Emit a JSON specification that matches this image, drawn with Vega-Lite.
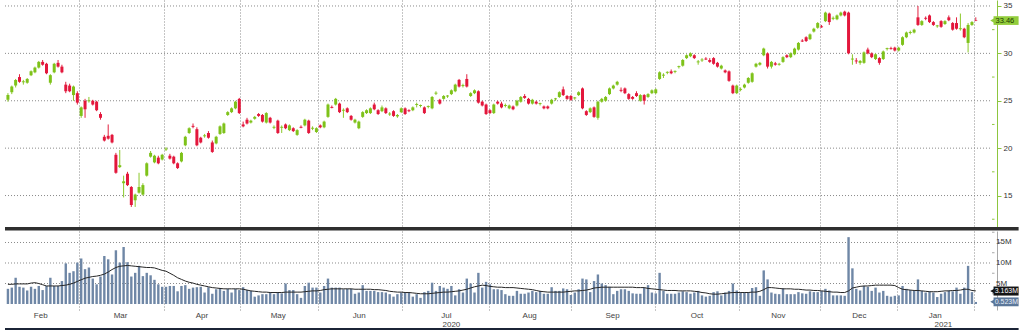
{
"$schema": "https://vega.github.io/schema/vega-lite/v6.json",
"padding": 0,
"autosize": {"type": "pad"},
"background": "white",
"spacing": 4,
"bounds": "flush",
"config": {"view": {"stroke": null}, "font": "Liberation Sans", "axis": {"labelFont": "Liberation Sans", "labelFontSize": 8, "labelColor": "#333333", "labelOverlap": false}, "text": {"font": "Liberation Sans"}},
"datasets": {
"px": [
{"i":0,"o":25.1,"h":25.8,"l":24.9,"c":25.6,"v":3.7,"m":4.8},
{"i":1,"o":25.9,"h":26.6,"l":25.7,"c":26.5,"v":4.0,"m":4.8},
{"i":2,"o":26.6,"h":27.3,"l":26.4,"c":27.2,"v":6.4,"m":4.9},
{"i":3,"o":27.5,"h":27.8,"l":26.9,"c":27.0,"v":4.2,"m":4.9},
{"i":4,"o":26.95,"h":27.2,"l":26.7,"c":27.05,"v":4.0,"m":4.9},
{"i":5,"o":26.9,"h":27.4,"l":26.8,"c":27.3,"v":3.3,"m":4.9},
{"i":6,"o":27.7,"h":28.2,"l":27.6,"c":28.1,"v":4.2,"m":5.1},
{"i":7,"o":28.0,"h":28.6,"l":27.9,"c":28.5,"v":3.7,"m":5.2},
{"i":8,"o":28.5,"h":29.2,"l":28.4,"c":29.1,"v":4.4,"m":5.0},
{"i":9,"o":29.1,"h":29.3,"l":28.7,"c":28.8,"v":3.4,"m":4.7},
{"i":10,"o":28.9,"h":29.0,"l":27.8,"c":27.9,"v":4.4,"m":4.4},
{"i":11,"o":26.9,"h":27.8,"l":26.7,"c":27.7,"v":6.4,"m":4.4},
{"i":12,"o":28.0,"h":29.0,"l":27.9,"c":28.9,"v":4.4,"m":4.4},
{"i":13,"o":29.0,"h":29.3,"l":28.5,"c":28.6,"v":4.4,"m":4.4},
{"i":14,"o":28.6,"h":28.8,"l":27.9,"c":28.0,"v":5.6,"m":4.5},
{"i":15,"o":26.7,"h":27.0,"l":25.8,"c":26.0,"v":9.9,"m":4.6},
{"i":16,"o":26.6,"h":26.8,"l":25.9,"c":26.0,"v":7.6,"m":4.8},
{"i":17,"o":25.6,"h":26.6,"l":25.0,"c":26.5,"v":8.0,"m":5.1},
{"i":18,"o":25.8,"h":26.0,"l":24.6,"c":24.8,"v":10.1,"m":5.5},
{"i":19,"o":23.4,"h":24.4,"l":23.2,"c":24.3,"v":11.1,"m":5.9},
{"i":20,"o":25.0,"h":25.2,"l":23.2,"c":24.1,"v":8.5,"m":6.3},
{"i":21,"o":24.95,"h":25.4,"l":24.8,"c":25.05,"v":8.9,"m":6.5},
{"i":22,"o":25.0,"h":25.1,"l":24.5,"c":24.6,"v":6.2,"m":6.7},
{"i":23,"o":24.9,"h":25.0,"l":23.9,"c":24.0,"v":4.8,"m":6.8},
{"i":24,"o":23.6,"h":23.8,"l":23.0,"c":23.2,"v":6.7,"m":7.0},
{"i":25,"o":21.2,"h":21.4,"l":20.7,"c":20.8,"v":11.7,"m":7.3},
{"i":26,"o":21.3,"h":22.5,"l":20.9,"c":21.0,"v":10.9,"m":7.8},
{"i":27,"o":21.4,"h":21.5,"l":20.5,"c":20.6,"v":7.2,"m":8.4},
{"i":28,"o":19.3,"h":19.5,"l":17.3,"c":17.4,"v":13.1,"m":8.9},
{"i":29,"o":18.0,"h":19.8,"l":17.9,"c":18.2,"v":10.1,"m":9.2},
{"i":30,"o":16.3,"h":17.1,"l":14.8,"c":16.5,"v":13.9,"m":9.3},
{"i":31,"o":17.3,"h":17.5,"l":16.0,"c":16.1,"v":10.2,"m":9.4},
{"i":32,"o":15.9,"h":16.0,"l":13.8,"c":14.0,"v":6.7,"m":9.3},
{"i":33,"o":14.5,"h":15.2,"l":13.8,"c":15.1,"v":7.6,"m":9.2},
{"i":34,"o":15.3,"h":17.4,"l":15.2,"c":15.9,"v":9.3,"m":9.1},
{"i":35,"o":15.1,"h":16.3,"l":15.0,"c":16.1,"v":6.8,"m":9.0},
{"i":36,"o":17.1,"h":18.5,"l":17.0,"c":18.4,"v":7.6,"m":8.9},
{"i":37,"o":19.1,"h":19.7,"l":19.0,"c":19.5,"v":7.0,"m":8.9},
{"i":38,"o":18.5,"h":19.3,"l":18.4,"c":19.2,"v":5.9,"m":8.8},
{"i":39,"o":19.0,"h":19.2,"l":18.3,"c":18.4,"v":4.8,"m":8.5},
{"i":40,"o":18.8,"h":19.4,"l":18.7,"c":19.3,"v":4.2,"m":8.2},
{"i":41,"o":19.85,"h":20.1,"l":19.7,"c":19.95,"v":4.2,"m":8.0},
{"i":42,"o":19.2,"h":19.4,"l":18.8,"c":18.9,"v":4.4,"m":7.5},
{"i":43,"o":19.1,"h":19.2,"l":18.3,"c":18.4,"v":4.4,"m":7.0},
{"i":44,"o":18.4,"h":18.5,"l":17.8,"c":17.9,"v":3.1,"m":6.4},
{"i":45,"o":18.6,"h":19.6,"l":18.5,"c":19.5,"v":4.4,"m":6.0},
{"i":46,"o":20.3,"h":21.3,"l":20.2,"c":21.2,"v":4.6,"m":5.6},
{"i":47,"o":21.6,"h":22.2,"l":21.5,"c":22.1,"v":3.7,"m":5.3},
{"i":48,"o":22.35,"h":22.6,"l":22.1,"c":22.25,"v":4.0,"m":5.1},
{"i":49,"o":22.0,"h":22.2,"l":20.2,"c":20.3,"v":4.1,"m":4.8},
{"i":50,"o":21.1,"h":21.2,"l":20.5,"c":20.6,"v":4.2,"m":4.6},
{"i":51,"o":21.25,"h":21.5,"l":21.1,"c":21.35,"v":2.8,"m":4.4},
{"i":52,"o":21.6,"h":21.8,"l":21.0,"c":21.1,"v":4.1,"m":4.2},
{"i":53,"o":20.6,"h":20.8,"l":19.5,"c":19.6,"v":2.5,"m":4.0},
{"i":54,"o":20.5,"h":21.3,"l":20.4,"c":21.2,"v":3.6,"m":3.9},
{"i":55,"o":21.5,"h":22.4,"l":21.4,"c":22.3,"v":3.9,"m":3.8},
{"i":56,"o":21.6,"h":22.7,"l":21.5,"c":22.6,"v":3.2,"m":3.7},
{"i":57,"o":23.5,"h":23.9,"l":23.4,"c":23.8,"v":3.7,"m":3.7},
{"i":58,"o":23.8,"h":24.3,"l":23.7,"c":24.2,"v":2.8,"m":3.7},
{"i":59,"o":24.2,"h":25.0,"l":24.1,"c":24.9,"v":3.7,"m":3.7},
{"i":60,"o":25.2,"h":25.3,"l":23.6,"c":23.7,"v":3.4,"m":3.7},
{"i":61,"o":22.5,"h":22.8,"l":22.2,"c":22.3,"v":4.1,"m":3.6},
{"i":62,"o":23.0,"h":23.2,"l":22.5,"c":22.6,"v":3.4,"m":3.4},
{"i":63,"o":22.7,"h":23.0,"l":22.6,"c":22.9,"v":3.2,"m":3.2},
{"i":64,"o":23.1,"h":23.4,"l":23.0,"c":23.3,"v":1.8,"m":3.1},
{"i":65,"o":23.6,"h":23.7,"l":23.3,"c":23.4,"v":2.1,"m":3.0},
{"i":66,"o":23.5,"h":23.6,"l":22.7,"c":22.8,"v":2.4,"m":2.9},
{"i":67,"o":22.7,"h":23.8,"l":22.6,"c":23.7,"v":2.4,"m":2.9},
{"i":68,"o":23.2,"h":23.3,"l":22.6,"c":22.7,"v":2.8,"m":2.8},
{"i":69,"o":22.15,"h":22.4,"l":22.0,"c":22.25,"v":2.4,"m":2.8},
{"i":70,"o":22.9,"h":23.0,"l":21.5,"c":21.6,"v":2.9,"m":2.8},
{"i":71,"o":22.15,"h":22.4,"l":21.6,"c":22.25,"v":2.6,"m":2.8},
{"i":72,"o":22.5,"h":22.6,"l":22.0,"c":22.1,"v":5.0,"m":2.9},
{"i":73,"o":21.9,"h":22.5,"l":21.8,"c":22.4,"v":3.4,"m":2.9},
{"i":74,"o":22.1,"h":22.2,"l":21.7,"c":21.8,"v":3.4,"m":2.9},
{"i":75,"o":21.4,"h":22.0,"l":21.3,"c":21.9,"v":2.4,"m":2.9},
{"i":76,"o":22.25,"h":22.4,"l":22.1,"c":22.15,"v":1.5,"m":2.9},
{"i":77,"o":22.4,"h":23.1,"l":22.3,"c":23.0,"v":4.4,"m":3.0},
{"i":78,"o":22.9,"h":23.0,"l":21.5,"c":21.6,"v":5.2,"m":3.1},
{"i":79,"o":22.05,"h":22.3,"l":21.9,"c":22.15,"v":4.0,"m":3.2},
{"i":80,"o":21.7,"h":22.2,"l":21.6,"c":22.1,"v":4.0,"m":3.2},
{"i":81,"o":22.4,"h":22.5,"l":22.1,"c":22.2,"v":2.8,"m":3.3},
{"i":82,"o":22.2,"h":22.9,"l":22.1,"c":22.8,"v":4.4,"m":3.5},
{"i":83,"o":23.3,"h":24.7,"l":23.2,"c":24.6,"v":6.2,"m":3.6},
{"i":84,"o":24.35,"h":24.5,"l":24.2,"c":24.25,"v":4.0,"m":3.7},
{"i":85,"o":24.6,"h":25.3,"l":24.5,"c":25.2,"v":4.0,"m":3.7},
{"i":86,"o":24.7,"h":24.8,"l":23.7,"c":23.8,"v":4.0,"m":3.7},
{"i":87,"o":23.95,"h":24.2,"l":23.2,"c":24.05,"v":3.6,"m":3.7},
{"i":88,"o":24.2,"h":24.3,"l":23.7,"c":23.8,"v":3.7,"m":3.7},
{"i":89,"o":23.4,"h":23.5,"l":22.9,"c":23.0,"v":3.7,"m":3.7},
{"i":90,"o":22.7,"h":23.1,"l":22.6,"c":23.0,"v":2.5,"m":3.6},
{"i":91,"o":22.1,"h":22.9,"l":22.0,"c":22.8,"v":2.8,"m":3.6},
{"i":92,"o":23.3,"h":23.9,"l":23.2,"c":23.8,"v":4.6,"m":3.6},
{"i":93,"o":23.7,"h":24.1,"l":23.6,"c":24.0,"v":3.2,"m":3.6},
{"i":94,"o":23.7,"h":24.3,"l":23.6,"c":24.2,"v":3.2,"m":3.6},
{"i":95,"o":24.6,"h":24.8,"l":24.0,"c":24.1,"v":3.2,"m":3.5},
{"i":96,"o":24.0,"h":24.1,"l":23.5,"c":23.6,"v":2.9,"m":3.5},
{"i":97,"o":23.9,"h":24.5,"l":23.8,"c":24.3,"v":2.9,"m":3.4},
{"i":98,"o":24.2,"h":24.3,"l":23.6,"c":23.7,"v":2.8,"m":3.3},
{"i":99,"o":23.55,"h":23.8,"l":23.4,"c":23.65,"v":2.4,"m":3.1},
{"i":100,"o":23.9,"h":24.0,"l":23.3,"c":23.4,"v":1.8,"m":3.0},
{"i":101,"o":23.35,"h":23.6,"l":23.2,"c":23.5,"v":2.4,"m":2.9},
{"i":102,"o":23.8,"h":24.3,"l":23.7,"c":24.2,"v":2.8,"m":2.9},
{"i":103,"o":24.2,"h":24.3,"l":23.5,"c":23.6,"v":2.8,"m":2.8},
{"i":104,"o":24.0,"h":24.1,"l":23.8,"c":23.9,"v":2.8,"m":2.8},
{"i":105,"o":24.0,"h":24.4,"l":23.9,"c":24.3,"v":1.8,"m":2.7},
{"i":106,"o":24.55,"h":24.8,"l":24.3,"c":24.65,"v":2.4,"m":2.6},
{"i":107,"o":24.45,"h":24.6,"l":24.3,"c":24.55,"v":1.5,"m":2.5},
{"i":108,"o":24.3,"h":24.4,"l":23.6,"c":23.7,"v":2.9,"m":2.5},
{"i":109,"o":24.35,"h":24.5,"l":24.2,"c":24.45,"v":3.2,"m":2.5},
{"i":110,"o":24.2,"h":25.5,"l":24.1,"c":25.4,"v":5.2,"m":2.6},
{"i":111,"o":25.75,"h":26.0,"l":25.6,"c":25.85,"v":3.2,"m":2.7},
{"i":112,"o":25.1,"h":25.2,"l":24.6,"c":24.7,"v":4.4,"m":2.8},
{"i":113,"o":25.2,"h":25.6,"l":25.1,"c":25.5,"v":4.0,"m":2.9},
{"i":114,"o":25.45,"h":25.6,"l":25.3,"c":25.55,"v":3.7,"m":2.9},
{"i":115,"o":25.7,"h":26.2,"l":25.6,"c":26.1,"v":4.4,"m":3.0},
{"i":116,"o":26.0,"h":26.8,"l":25.9,"c":26.7,"v":2.1,"m":3.1},
{"i":117,"o":27.2,"h":27.3,"l":26.4,"c":26.5,"v":3.6,"m":3.2},
{"i":118,"o":26.55,"h":26.8,"l":26.4,"c":26.65,"v":2.8,"m":3.4},
{"i":119,"o":27.3,"h":27.8,"l":26.4,"c":26.5,"v":6.2,"m":3.6},
{"i":120,"o":25.5,"h":25.9,"l":25.4,"c":25.8,"v":5.0,"m":3.9},
{"i":121,"o":25.8,"h":26.2,"l":25.7,"c":26.1,"v":2.8,"m":4.2},
{"i":122,"o":26.0,"h":26.1,"l":24.7,"c":24.8,"v":7.6,"m":4.4},
{"i":123,"o":24.9,"h":25.0,"l":24.4,"c":24.5,"v":4.0,"m":4.6},
{"i":124,"o":24.6,"h":24.7,"l":23.5,"c":23.6,"v":5.4,"m":4.5},
{"i":125,"o":24.0,"h":24.1,"l":23.6,"c":23.7,"v":4.8,"m":4.3},
{"i":126,"o":23.7,"h":24.7,"l":23.6,"c":24.6,"v":3.6,"m":4.2},
{"i":127,"o":24.9,"h":25.0,"l":24.6,"c":24.7,"v":3.6,"m":4.1},
{"i":128,"o":24.7,"h":24.9,"l":24.2,"c":24.3,"v":3.4,"m":4.1},
{"i":129,"o":24.45,"h":24.7,"l":24.3,"c":24.55,"v":2.4,"m":4.0},
{"i":130,"o":24.2,"h":24.6,"l":24.1,"c":24.5,"v":2.0,"m":4.0},
{"i":131,"o":24.4,"h":24.5,"l":24.0,"c":24.1,"v":2.0,"m":4.0},
{"i":132,"o":24.5,"h":25.1,"l":24.4,"c":25.0,"v":3.2,"m":3.9},
{"i":133,"o":24.9,"h":25.5,"l":24.8,"c":25.4,"v":2.5,"m":3.8},
{"i":134,"o":25.5,"h":25.7,"l":25.2,"c":25.3,"v":2.5,"m":3.7},
{"i":135,"o":25.2,"h":25.3,"l":24.6,"c":24.7,"v":2.8,"m":3.6},
{"i":136,"o":24.7,"h":25.2,"l":24.6,"c":25.1,"v":3.2,"m":3.5},
{"i":137,"o":24.9,"h":25.0,"l":24.6,"c":24.7,"v":2.9,"m":3.3},
{"i":138,"o":24.65,"h":24.8,"l":24.5,"c":24.75,"v":3.2,"m":3.1},
{"i":139,"o":24.4,"h":24.5,"l":24.1,"c":24.2,"v":2.5,"m":3.0},
{"i":140,"o":24.4,"h":24.5,"l":24.1,"c":24.2,"v":2.5,"m":2.9},
{"i":141,"o":24.7,"h":25.2,"l":24.6,"c":25.1,"v":4.1,"m":2.9},
{"i":142,"o":25.15,"h":25.3,"l":25.0,"c":25.25,"v":3.2,"m":2.9},
{"i":143,"o":25.4,"h":26.0,"l":25.3,"c":25.9,"v":3.2,"m":2.9},
{"i":144,"o":26.2,"h":26.5,"l":25.5,"c":25.6,"v":3.8,"m":2.9},
{"i":145,"o":25.5,"h":25.6,"l":25.1,"c":25.2,"v":3.6,"m":3.0},
{"i":146,"o":25.5,"h":25.6,"l":25.0,"c":25.1,"v":2.2,"m":3.1},
{"i":147,"o":25.25,"h":25.4,"l":25.1,"c":25.35,"v":2.8,"m":3.2},
{"i":148,"o":25.6,"h":26.0,"l":25.5,"c":25.9,"v":3.6,"m":3.2},
{"i":149,"o":26.3,"h":26.4,"l":24.1,"c":24.2,"v":6.2,"m":3.3},
{"i":150,"o":23.9,"h":24.0,"l":23.4,"c":23.5,"v":6.0,"m":3.4},
{"i":151,"o":23.8,"h":24.3,"l":23.7,"c":24.2,"v":2.9,"m":3.6},
{"i":152,"o":24.3,"h":24.4,"l":23.2,"c":23.3,"v":5.6,"m":3.9},
{"i":153,"o":23.2,"h":25.0,"l":23.0,"c":24.9,"v":7.2,"m":4.0},
{"i":154,"o":24.9,"h":25.3,"l":24.8,"c":25.2,"v":5.0,"m":4.1},
{"i":155,"o":25.0,"h":25.5,"l":24.9,"c":25.4,"v":4.6,"m":4.1},
{"i":156,"o":25.7,"h":26.4,"l":25.6,"c":26.3,"v":4.2,"m":4.1},
{"i":157,"o":26.3,"h":26.7,"l":26.2,"c":26.6,"v":2.4,"m":4.1},
{"i":158,"o":26.7,"h":27.1,"l":26.6,"c":27.0,"v":3.2,"m":4.1},
{"i":159,"o":26.15,"h":26.4,"l":25.9,"c":26.05,"v":3.6,"m":4.1},
{"i":160,"o":26.3,"h":26.4,"l":25.7,"c":25.8,"v":3.6,"m":4.1},
{"i":161,"o":25.7,"h":25.8,"l":25.1,"c":25.2,"v":3.2,"m":4.1},
{"i":162,"o":25.4,"h":25.5,"l":25.1,"c":25.2,"v":2.6,"m":4.1},
{"i":163,"o":25.8,"h":26.0,"l":25.4,"c":25.5,"v":2.5,"m":4.0},
{"i":164,"o":25.0,"h":25.7,"l":24.9,"c":25.6,"v":2.5,"m":4.0},
{"i":165,"o":25.6,"h":25.7,"l":24.6,"c":25.0,"v":4.0,"m":4.0},
{"i":166,"o":25.4,"h":25.8,"l":25.3,"c":25.7,"v":4.6,"m":3.8},
{"i":167,"o":25.8,"h":26.2,"l":25.7,"c":26.1,"v":2.8,"m":3.7},
{"i":168,"o":25.8,"h":26.3,"l":25.7,"c":26.2,"v":2.6,"m":3.6},
{"i":169,"o":27.3,"h":28.1,"l":27.2,"c":28.0,"v":7.6,"m":3.5},
{"i":170,"o":27.65,"h":27.9,"l":27.4,"c":27.75,"v":3.2,"m":3.4},
{"i":171,"o":27.95,"h":28.1,"l":27.8,"c":28.05,"v":2.5,"m":3.3},
{"i":172,"o":28.1,"h":28.3,"l":27.8,"c":27.9,"v":2.5,"m":3.3},
{"i":173,"o":28.05,"h":28.2,"l":27.9,"c":28.15,"v":2.5,"m":3.3},
{"i":174,"o":28.55,"h":28.7,"l":28.4,"c":28.65,"v":2.8,"m":3.2},
{"i":175,"o":28.7,"h":29.4,"l":28.6,"c":29.3,"v":3.1,"m":3.2},
{"i":176,"o":29.5,"h":29.9,"l":29.4,"c":29.8,"v":2.9,"m":3.2},
{"i":177,"o":29.7,"h":30.1,"l":29.6,"c":30.0,"v":2.5,"m":3.2},
{"i":178,"o":29.8,"h":29.9,"l":29.4,"c":29.5,"v":2.8,"m":3.1},
{"i":179,"o":29.05,"h":29.3,"l":28.8,"c":29.15,"v":3.2,"m":3.0},
{"i":180,"o":29.25,"h":29.5,"l":29.1,"c":29.35,"v":2.1,"m":2.8},
{"i":181,"o":29.45,"h":29.6,"l":29.3,"c":29.35,"v":1.8,"m":2.7},
{"i":182,"o":29.3,"h":29.5,"l":29.0,"c":29.1,"v":2.0,"m":2.5},
{"i":183,"o":29.5,"h":29.6,"l":28.8,"c":28.9,"v":2.9,"m":2.4},
{"i":184,"o":29.0,"h":29.1,"l":28.5,"c":28.6,"v":3.1,"m":2.4},
{"i":185,"o":28.4,"h":28.8,"l":28.3,"c":28.7,"v":2.1,"m":2.5},
{"i":186,"o":28.2,"h":28.3,"l":27.9,"c":28.0,"v":2.8,"m":2.6},
{"i":187,"o":28.1,"h":28.2,"l":27.0,"c":27.1,"v":3.2,"m":2.7},
{"i":188,"o":26.6,"h":26.7,"l":25.7,"c":25.8,"v":5.0,"m":2.8},
{"i":189,"o":25.8,"h":26.7,"l":25.7,"c":26.6,"v":3.3,"m":2.8},
{"i":190,"o":26.15,"h":26.4,"l":26.0,"c":26.25,"v":2.9,"m":2.8},
{"i":191,"o":26.4,"h":26.8,"l":26.3,"c":26.7,"v":2.9,"m":2.8},
{"i":192,"o":26.9,"h":27.5,"l":26.8,"c":27.4,"v":2.9,"m":2.8},
{"i":193,"o":27.0,"h":28.0,"l":26.9,"c":27.9,"v":3.9,"m":2.9},
{"i":194,"o":28.6,"h":29.0,"l":28.5,"c":28.9,"v":4.1,"m":2.9},
{"i":195,"o":28.8,"h":29.1,"l":28.7,"c":29.0,"v":2.0,"m":3.1},
{"i":196,"o":29.8,"h":30.6,"l":29.7,"c":30.5,"v":8.2,"m":3.5},
{"i":197,"o":30.0,"h":30.1,"l":28.4,"c":28.6,"v":6.0,"m":4.0},
{"i":198,"o":28.6,"h":29.2,"l":28.4,"c":29.1,"v":2.8,"m":4.0},
{"i":199,"o":28.95,"h":29.1,"l":28.7,"c":28.8,"v":2.5,"m":3.9},
{"i":200,"o":28.8,"h":29.0,"l":28.7,"c":28.9,"v":2.4,"m":3.8},
{"i":201,"o":29.1,"h":29.7,"l":29.0,"c":29.6,"v":3.8,"m":3.7},
{"i":202,"o":29.8,"h":29.9,"l":29.5,"c":29.6,"v":2.4,"m":3.7},
{"i":203,"o":29.6,"h":30.1,"l":29.5,"c":30.0,"v":2.4,"m":3.7},
{"i":204,"o":29.9,"h":30.6,"l":29.8,"c":30.5,"v":2.4,"m":3.6},
{"i":205,"o":30.4,"h":31.2,"l":30.3,"c":31.1,"v":2.9,"m":3.6},
{"i":206,"o":31.35,"h":31.5,"l":31.2,"c":31.25,"v":2.6,"m":3.5},
{"i":207,"o":31.7,"h":31.8,"l":31.2,"c":31.3,"v":2.5,"m":3.4},
{"i":208,"o":31.5,"h":32.1,"l":31.4,"c":32.0,"v":3.1,"m":3.4},
{"i":209,"o":32.3,"h":32.7,"l":32.2,"c":32.6,"v":2.9,"m":3.3},
{"i":210,"o":32.7,"h":33.3,"l":32.6,"c":33.2,"v":2.9,"m":3.3},
{"i":211,"o":32.85,"h":33.0,"l":32.7,"c":32.75,"v":3.2,"m":3.2},
{"i":212,"o":33.4,"h":34.4,"l":33.3,"c":34.3,"v":3.7,"m":3.1},
{"i":213,"o":34.2,"h":34.3,"l":33.0,"c":33.3,"v":3.3,"m":3.0},
{"i":214,"o":33.65,"h":33.9,"l":33.5,"c":33.75,"v":2.1,"m":2.9},
{"i":215,"o":33.6,"h":34.1,"l":33.5,"c":34.0,"v":2.1,"m":2.9},
{"i":216,"o":34.0,"h":34.4,"l":33.9,"c":34.3,"v":2.1,"m":2.8},
{"i":217,"o":34.4,"h":34.5,"l":33.9,"c":34.0,"v":2.0,"m":2.8},
{"i":218,"o":34.3,"h":34.4,"l":29.9,"c":30.0,"v":16.3,"m":3.2},
{"i":219,"o":29.35,"h":29.9,"l":28.8,"c":29.45,"v":8.7,"m":3.9},
{"i":220,"o":29.25,"h":29.5,"l":28.9,"c":29.15,"v":3.7,"m":4.1},
{"i":221,"o":29.0,"h":29.3,"l":28.8,"c":29.2,"v":3.3,"m":4.3},
{"i":222,"o":29.0,"h":30.2,"l":28.9,"c":30.1,"v":4.4,"m":4.4},
{"i":223,"o":30.4,"h":30.6,"l":29.9,"c":30.0,"v":4.2,"m":4.4},
{"i":224,"o":30.0,"h":30.1,"l":29.5,"c":29.6,"v":3.2,"m":4.5},
{"i":225,"o":29.4,"h":30.0,"l":29.3,"c":29.9,"v":4.0,"m":4.6},
{"i":226,"o":29.5,"h":29.6,"l":28.8,"c":29.0,"v":2.8,"m":4.6},
{"i":227,"o":29.4,"h":30.3,"l":29.3,"c":30.2,"v":3.2,"m":4.6},
{"i":228,"o":30.45,"h":30.6,"l":30.3,"c":30.55,"v":2.0,"m":4.6},
{"i":229,"o":30.55,"h":30.7,"l":30.4,"c":30.45,"v":1.8,"m":4.6},
{"i":230,"o":30.6,"h":30.7,"l":30.2,"c":30.3,"v":2.0,"m":4.5},
{"i":231,"o":30.3,"h":30.7,"l":30.2,"c":30.6,"v":2.1,"m":4.0},
{"i":232,"o":30.9,"h":31.8,"l":30.8,"c":31.7,"v":4.4,"m":3.6},
{"i":233,"o":31.7,"h":32.3,"l":31.6,"c":32.2,"v":3.7,"m":3.5},
{"i":234,"o":32.15,"h":32.4,"l":32.0,"c":32.25,"v":3.4,"m":3.4},
{"i":235,"o":32.2,"h":32.6,"l":32.1,"c":32.5,"v":3.2,"m":3.3},
{"i":236,"o":33.8,"h":35.0,"l":32.9,"c":33.0,"v":6.0,"m":3.3},
{"i":237,"o":33.0,"h":33.5,"l":32.9,"c":33.4,"v":3.2,"m":3.2},
{"i":238,"o":33.75,"h":33.9,"l":33.5,"c":33.65,"v":2.8,"m":3.1},
{"i":239,"o":34.0,"h":34.1,"l":33.2,"c":33.3,"v":3.1,"m":3.0},
{"i":240,"o":33.3,"h":33.4,"l":32.9,"c":33.0,"v":2.8,"m":3.0},
{"i":241,"o":32.85,"h":33.0,"l":32.7,"c":32.95,"v":1.7,"m":3.0},
{"i":242,"o":33.4,"h":33.5,"l":32.7,"c":32.8,"v":2.5,"m":3.1},
{"i":243,"o":33.1,"h":33.5,"l":33.0,"c":33.4,"v":2.9,"m":3.2},
{"i":244,"o":33.8,"h":34.0,"l":33.4,"c":33.5,"v":3.3,"m":3.2},
{"i":245,"o":33.2,"h":33.3,"l":32.4,"c":32.5,"v":3.1,"m":3.3},
{"i":246,"o":33.2,"h":33.8,"l":32.5,"c":32.6,"v":4.0,"m":3.3},
{"i":247,"o":32.55,"h":34.2,"l":32.4,"c":32.65,"v":2.5,"m":3.4},
{"i":248,"o":32.6,"h":32.7,"l":31.6,"c":31.7,"v":4.0,"m":3.6},
{"i":249,"o":31.1,"h":33.2,"l":30.1,"c":33.0,"v":9.3,"m":3.6},
{"i":250,"o":33.0,"h":33.4,"l":32.9,"c":33.3,"v":2.9,"m":3.3},
{"i":251,"o":33.52,"h":33.8,"l":33.4,"c":33.46,"v":0.5,"m":3.2}
],
"mo": [
{"i":8.5,"t":"Feb"},{"i":29.2,"t":"Mar"},{"i":50.3,"t":"Apr"},{"i":70.1,"t":"May"},{"i":91.1,"t":"Jun"},{"i":113.7,"t":"Jul"},{"i":135.3,"t":"Aug"},{"i":156.8,"t":"Sep"},{"i":178.7,"t":"Oct"},{"i":199.8,"t":"Nov"},{"i":220.8,"t":"Dec"},{"i":240.5,"t":"Jan"}
],
"yr": [
{"i":115.0,"t":"2020"},{"i":242.6,"t":"2021"}
],
"pg": [{"g":15},{"g":20},{"g":25},{"g":30},{"g":35}],
"pm": [{"g":12.5},{"g":17.5},{"g":22.5},{"g":27.5},{"g":32.5}],
"vg": [{"g":5,"t":"5M"},{"g":10,"t":"10M"},{"g":15,"t":"15M"}],
"vm": [{"g":2.5},{"g":7.5},{"g":12.5},{"g":17.5}]
},
"vconcat": [
{
"width": 997,
"height": 227,
"layer": [
{
"data": {"name": "pg"},
"mark": {"type": "rule", "color": "#8a8a8a", "strokeDash": [1, 2], "strokeWidth": 1},
"encoding": {
"x": {"datum": -0.76, "type": "quantitative", "scale": {"domain": [-0.76, 255.2], "nice": false, "zero": false},
"axis": {"values": [18.5, 40.5, 60.3, 80.3, 102.1, 124.8, 146.0, 167.8, 189.7, 210.5, 230.6, 250.5], "grid": true, "gridColor": "#8a8a8a", "gridDash": [1, 2], "labels": false, "ticks": false, "domain": false, "title": null}},
"x2": {"datum": 255.2},
"y": {"field": "g", "type": "quantitative", "scale": {"domain": [11.68, 35.63], "nice": false, "zero": false},
"axis": {"orient": "right", "title": null, "values": [15, 20, 25, 30, 35], "grid": false, "domainColor": "#8dc63f", "tickColor": "#8dc63f", "tickSize": 4, "labelPadding": 2}}
}
},
{
"data": {"name": "pm"},
"mark": {"type": "rule", "color": "#8dc63f", "strokeWidth": 1},
"encoding": {"x": {"datum": 255.2}, "x2": {"datum": 255.85}, "y": {"field": "g", "type": "quantitative"}}
},
{
"data": {"name": "px"},
"mark": {"type": "rule", "strokeWidth": 1},
"encoding": {
"x": {"field": "i", "type": "quantitative"},
"y": {"field": "l", "type": "quantitative"},
"y2": {"field": "h"},
"color": {"condition": {"test": "datum.c >= datum.o", "value": "#8bc82a"}, "value": "#e2203f"}
}
},
{
"data": {"name": "px"},
"mark": {"type": "bar", "size": 3},
"encoding": {
"x": {"field": "i", "type": "quantitative"},
"y": {"field": "o", "type": "quantitative"},
"y2": {"field": "c"},
"color": {"condition": {"test": "datum.c >= datum.o", "value": "#7ec21a"}, "value": "#e3173c"}
}
},
{
"data": {"values": [{"k": 1}]},
"mark": {"type": "rule", "color": "#2f2f2f", "strokeWidth": 3.5},
"encoding": {"x": {"datum": -0.76}, "x2": {"datum": 262.1}, "y": {"datum": 11.5}}
},
{
"data": {"values": [{"p": 33.46, "t": "33.46"}]},
"layer": [
{"mark": {"type": "rect", "color": "#93cd3c"}, "encoding": {"x": {"datum": 255.6}, "x2": {"datum": 262.1}, "y": {"datum": 33.0}, "y2": {"datum": 33.92}}},
{"mark": {"type": "point", "shape": "triangle-left", "filled": true, "color": "#93cd3c", "size": 45, "opacity": 1}, "encoding": {"x": {"datum": 255.5}, "y": {"field": "p", "type": "quantitative"}}},
{"mark": {"type": "text", "align": "left", "baseline": "middle", "fontSize": 7.5, "color": "#203c00"}, "encoding": {"x": {"datum": 256.1}, "y": {"field": "p", "type": "quantitative"}, "text": {"field": "t"}}}
]
}
]
},
{
"width": 997,
"height": 79,
"layer": [
{
"data": {"name": "vg"},
"mark": {"type": "rule", "color": "#8a8a8a", "strokeDash": [1, 2], "strokeWidth": 1},
"encoding": {
"x": {"datum": -0.76, "type": "quantitative", "scale": {"domain": [-0.76, 255.2], "nice": false, "zero": false},
"axis": {"values": [18.5, 40.5, 60.3, 80.3, 102.1, 124.8, 146.0, 167.8, 189.7, 210.5, 230.6, 250.5], "grid": true, "gridColor": "#8a8a8a", "gridDash": [1, 2], "labels": false, "ticks": false, "domain": false, "title": null}},
"x2": {"datum": 255.2},
"y": {"field": "g", "type": "quantitative", "scale": {"domain": [-1.46, 17.8], "nice": false, "zero": false},
"axis": {"orient": "right", "title": null, "values": [0, 5, 10, 15], "grid": false, "labels": false, "domainColor": "#a8a8a8", "tickColor": "#a8a8a8", "tickSize": 4}}
}
},
{
"data": {"name": "vg"},
"mark": {"type": "text", "align": "left", "baseline": "middle", "fontSize": 8, "color": "#333333"},
"encoding": {"x": {"datum": 256.25}, "y": {"field": "g", "type": "quantitative"}, "text": {"field": "t"}}
},
{
"data": {"name": "vm"},
"mark": {"type": "rule", "color": "#a8a8a8", "strokeWidth": 1},
"encoding": {"x": {"datum": 255.2}, "x2": {"datum": 255.85}, "y": {"field": "g", "type": "quantitative"}}
},
{
"data": {"name": "px"},
"mark": {"type": "bar", "size": 2.4, "color": "#6f87a6"},
"encoding": {
"x": {"field": "i", "type": "quantitative"},
"y": {"field": "v", "type": "quantitative"},
"y2": {"datum": 0}
}
},
{
"data": {"name": "px"},
"mark": {"type": "line", "color": "#262626", "strokeWidth": 1},
"encoding": {"x": {"field": "i", "type": "quantitative"}, "y": {"field": "m", "type": "quantitative"}}
},
{
"data": {"name": "mo"},
"mark": {"type": "text", "fontSize": 8, "color": "#444444", "baseline": "middle"},
"encoding": {"x": {"field": "i", "type": "quantitative"}, "y": {"datum": -2.93}, "text": {"field": "t"}}
},
{
"data": {"name": "yr"},
"mark": {"type": "text", "fontSize": 8, "color": "#444444", "baseline": "middle"},
"encoding": {"x": {"field": "i", "type": "quantitative"}, "y": {"datum": -5.1}, "text": {"field": "t"}}
},
{
"data": {"values": [{"k": 1}]},
"mark": {"type": "rule", "color": "#1b2436", "strokeWidth": 2},
"encoding": {"x": {"datum": -0.76}, "x2": {"datum": 262.1}, "y": {"datum": -6.1}}
},
{
"data": {"values": [{"p": 3.163, "t": "3.163M"}]},
"layer": [
{"mark": {"type": "rect", "color": "#151515"}, "encoding": {"x": {"datum": 255.6}, "x2": {"datum": 262.1}, "y": {"datum": 2.06}, "y2": {"datum": 4.26}}},
{"mark": {"type": "point", "shape": "triangle-left", "filled": true, "color": "#151515", "size": 45, "opacity": 1}, "encoding": {"x": {"datum": 255.5}, "y": {"field": "p", "type": "quantitative"}}},
{"mark": {"type": "text", "align": "left", "baseline": "middle", "fontSize": 7, "color": "#ffffff"}, "encoding": {"x": {"datum": 255.9}, "y": {"field": "p", "type": "quantitative"}, "text": {"field": "t"}}}
]
},
{
"data": {"values": [{"p": 0.523, "t": "0.523M"}]},
"layer": [
{"mark": {"type": "rect", "color": "#5b7799"}, "encoding": {"x": {"datum": 255.6}, "x2": {"datum": 262.1}, "y": {"datum": -0.55}, "y2": {"datum": 1.6}}},
{"mark": {"type": "point", "shape": "triangle-left", "filled": true, "color": "#5b7799", "size": 45, "opacity": 1}, "encoding": {"x": {"datum": 255.5}, "y": {"field": "p", "type": "quantitative"}}},
{"mark": {"type": "text", "align": "left", "baseline": "middle", "fontSize": 7, "color": "#e6eefa"}, "encoding": {"x": {"datum": 255.9}, "y": {"field": "p", "type": "quantitative"}, "text": {"field": "t"}}}
]
}
]
}
]
}
